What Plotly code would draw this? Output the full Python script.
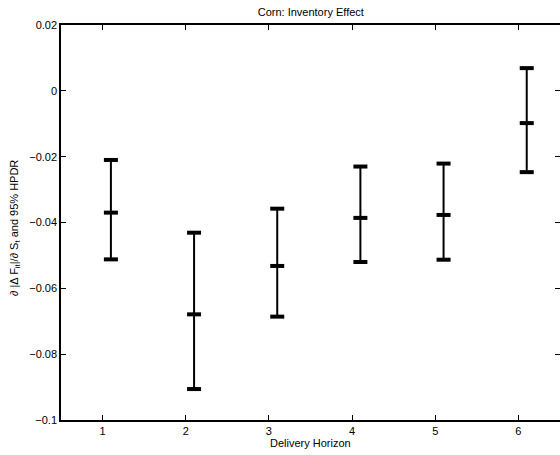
import plotly.graph_objects as go

horizons = [1, 2, 3, 4, 5, 6]
offset = 0.1
means = [-0.0370, -0.0679, -0.0532, -0.0386, -0.0377, -0.0098]
upper = [-0.0210, -0.0431, -0.0358, -0.0230, -0.0221, 0.0069]
lower = [-0.0512, -0.0906, -0.0686, -0.0520, -0.0513, -0.0247]
y_tickvals = [-0.1, -0.08, -0.06, -0.04, -0.02, 0, 0.02]
y_ticktext = ["\u22120.1", "\u22120.08", "\u22120.06", "\u22120.04", "\u22120.02", "0", "0.02"]

xpos = [h + offset for h in horizons]
err_plus = [u - m for u, m in zip(upper, means)]
err_minus = [m - l for m, l in zip(means, lower)]

cap = dict(symbol="line-ew", size=10, color="black", line=dict(color="black", width=4))

fig = go.Figure()
fig.add_trace(go.Scatter(
    x=xpos, y=means, mode="markers", marker=cap,
    error_y=dict(type="data", array=err_plus, arrayminus=err_minus,
                 thickness=2, width=0, color="black"),
    showlegend=False, hoverinfo="skip"))
fig.add_trace(go.Scatter(x=xpos, y=upper, mode="markers", marker=cap, showlegend=False))
fig.add_trace(go.Scatter(x=xpos, y=lower, mode="markers", marker=cap, showlegend=False))
# invisible trace to anchor the right-hand tick axis
fig.add_trace(go.Scatter(x=xpos, y=means, yaxis="y2", mode="markers",
                         marker=dict(opacity=0), showlegend=False, hoverinfo="skip"))

font = dict(family="Liberation Sans, Arial, sans-serif", size=11, color="black")

W, H = 560, 455
fig.update_layout(
    width=W, height=H,
    margin=dict(l=61, r=0, t=25, b=35),
    paper_bgcolor="white", plot_bgcolor="white",
    font=font,
    title=dict(text="Corn: Inventory Effect", x=310.8 / W, xanchor="center",
               yref="container", y=1 - 12.5 / H, yanchor="middle",
               font=dict(size=11)),
    xaxis=dict(range=[0.5, 6.5], tickvals=horizons, ticks="inside", ticklen=5,
               tickcolor="black", showline=True, linecolor="black", linewidth=1.5,
               mirror="ticks", showgrid=False, zeroline=False),
    yaxis=dict(range=[-0.1, 0.02], tickvals=y_tickvals, ticktext=y_ticktext,
               ticks="inside", ticklen=5, tickcolor="black", showline=True,
               linecolor="black", linewidth=1.5, mirror=False, showgrid=False,
               zeroline=False),
    yaxis2=dict(range=[-0.1, 0.02], tickvals=y_tickvals, overlaying="y", side="right",
                ticks="inside", ticklen=5, tickcolor="black", showline=False,
                showticklabels=False, showgrid=False, zeroline=False),
    annotations=[
        dict(text="Delivery Horizon", xref="paper", yref="paper",
             x=0.5006, y=-23 / 395, xanchor="center", yanchor="middle",
             showarrow=False, font=dict(size=11)),
        dict(text="\u2202 |\u0394 F<sub>it</sub>|/\u2202 S<sub>t</sub> and 95% HPDR",
             xref="paper", yref="paper", x=(15 - 61) / 499, y=(420 - 228) / 395,
             xanchor="center", yanchor="middle", textangle=-90,
             showarrow=False, font=dict(size=11)),
    ],
)

fig.write_html("out.html", config={"displayModeBar": False},
               post_script="document.body.style.margin='0px';")
